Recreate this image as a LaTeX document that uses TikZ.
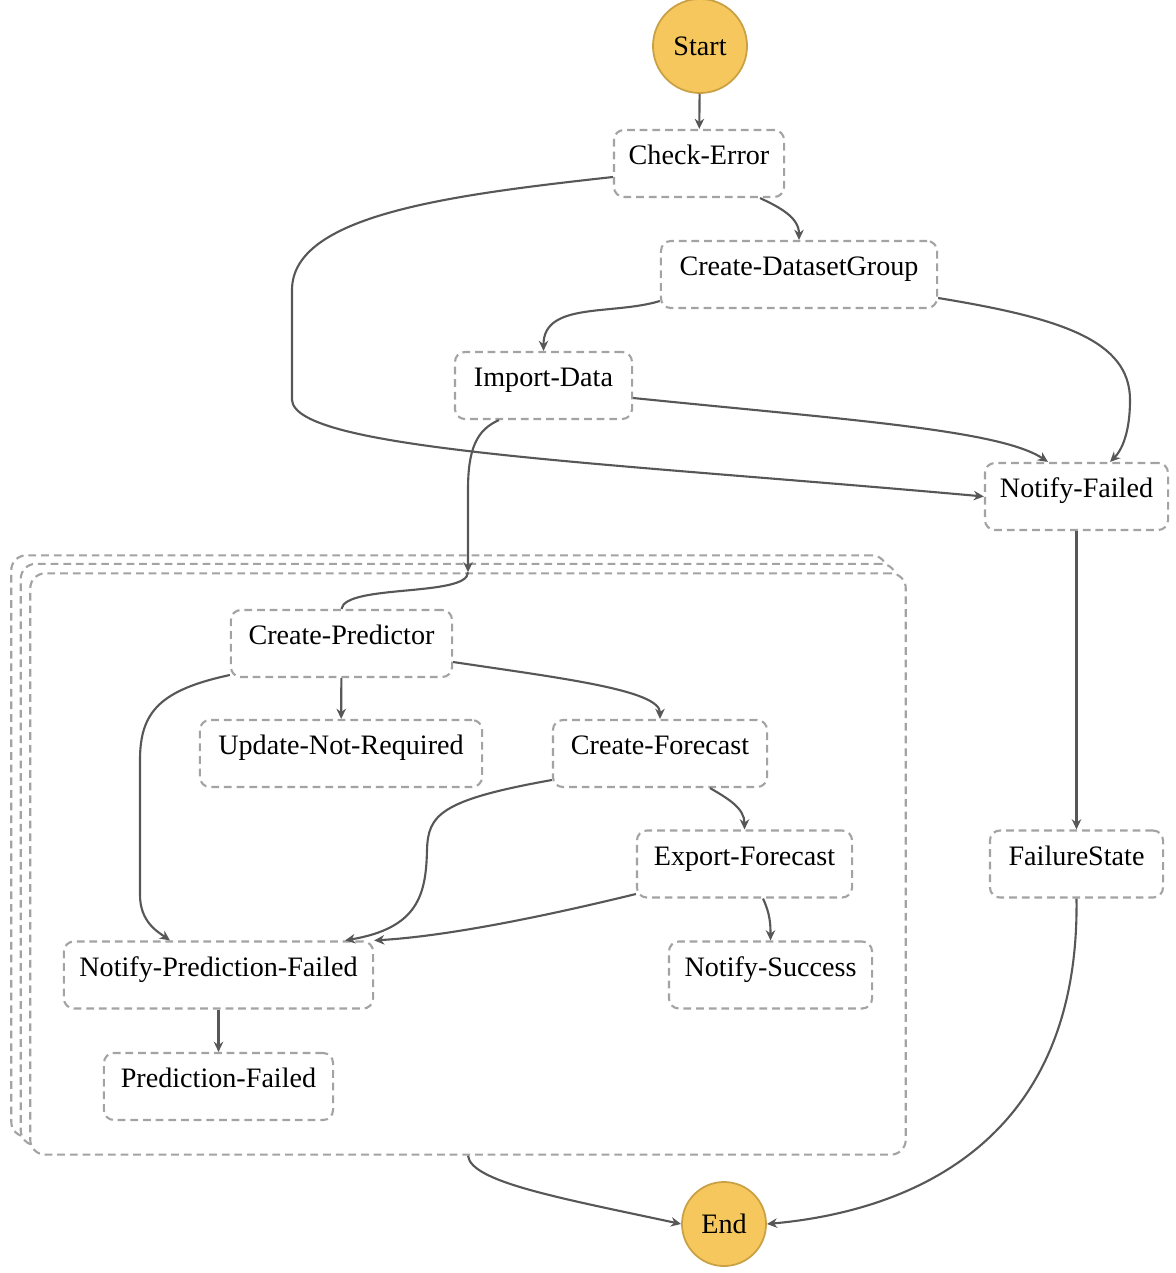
\documentclass[tikz,border=0pt]{standalone}
\usepackage{fontspec}
\setmainfont{Liberation Serif}
\usetikzlibrary{arrows.meta}
\definecolor{stategold}{HTML}{F5C75C}
\definecolor{stateedge}{HTML}{C9A144}
\definecolor{dashgray}{HTML}{A3A3A3}
\definecolor{linegray}{HTML}{575757}
\begin{document}
\begin{tikzpicture}[x=0.01cm,y=-0.01cm,font=\fontsize{8}{9}\selectfont]
    \tikzstyle{box}=[draw=dashgray, line width=0.6pt, dash pattern=on 2.2pt off 1.4pt,
                     rounded corners=0.1cm, fill=white, inner ysep=0pt,
                     text height=0.345cm, text depth=0.325cm]
    \tikzstyle{mapbox}=[draw=dashgray, line width=0.6pt, dash pattern=on 2.2pt off 1.4pt,
                        rounded corners=0.15cm, fill=white, minimum height=5.81cm, minimum width=8.75cm]
    \tikzstyle{terminal}=[circle, draw=stateedge, line width=0.5pt, fill=stategold, inner sep=0pt]
    \tikzstyle{edge}=[draw=linegray, line width=0.6pt, -{Stealth[length=2.9pt,width=2.7pt]}]
    \tikzstyle{link}=[draw=linegray, line width=0.6pt]

    \useasboundingbox (0,0) rectangle (1175,1273);

    \node[mapbox] (mapback) at (449,846) {};
    \node[mapbox] (mapmid) at (458.5,854.5) {};
    \node[mapbox] (map) at (468,864) {};

    \node[terminal, minimum size=0.94cm] (start) at (700,46) {Start};
    \node[box, minimum width=1.7cm] (chk) at (699,163.5) {Check-Error};
    \node[box, minimum width=2.76cm] (cdg) at (799,274.5) {Create-DatasetGroup};
    \node[box, minimum width=1.77cm] (imp) at (543.5,385.5) {Import-Data};
    \node[box, minimum width=1.83cm] (nfail) at (1076.5,496.5) {Notify-Failed};
    \node[box, minimum width=2.21cm] (cpred) at (341.5,643.5) {Create-Predictor};
    \node[box, minimum width=2.82cm] (unr) at (341,753.5) {Update-Not-Required};
    \node[box, minimum width=2.14cm] (cfc) at (660,753.5) {Create-Forecast};
    \node[box, minimum width=2.15cm] (efc) at (744.5,864) {Export-Forecast};
    \node[box, minimum width=1.73cm] (fstate) at (1076.5,864) {FailureState};
    \node[box, minimum width=3.09cm] (npf) at (218.5,975) {Notify-Prediction-Failed};
    \node[box, minimum width=2.03cm] (nsucc) at (770.5,975) {Notify-Success};
    \node[box, minimum width=2.29cm] (pf) at (218.5,1086.5) {Prediction-Failed};
    \node[terminal, minimum size=0.84cm] (end) at (724,1224) {End};

    \draw[edge] (start) -- (chk);
    \draw[edge] (chk.south -| 760,0) to[out=-25,in=90] (cdg.north);
    \draw[edge] (chk.west |- 0,177) .. controls (450,195) and (292,215) .. (292,290)
        -- (292,400) .. controls (295,450) and (600,462) .. (nfail.west);
    \draw[edge] (cdg.west |- 0,301) to[out=197,in=90] (imp.north);
    \draw[edge] (cdg.east |- 0,298) .. controls (1060,318) and (1130,340) .. (1130,400)
        .. controls (1130,432) and (1122,450) .. (nfail.north -| 1110,0);
    \draw[edge] (imp.east |- 0,398) .. controls (850,420) and (1000,430) .. (nfail.north -| 1048,0);
    \draw[edge] (imp.south -| 499,0) .. controls (476,430) and (468,450) .. (468,490) -- (map.north);
    \draw[link] (map.north) .. controls (468,597) and (345,584) .. (cpred.north);

    \draw[edge] (cpred) -- (unr);
    \draw[edge] (cpred.east |- 0,662) .. controls (560,678) and (660,690) .. (cfc.north);
    \draw[edge] (cpred.west |- 0,675) .. controls (160,690) and (140,712) .. (140,760)
        -- (140,895) .. controls (140,922) and (158,932) .. (npf.north -| 170,0);
    \draw[edge] (cfc.west |- 0,780) .. controls (440,800) and (428,815) .. (427,850)
        .. controls (426,895) and (418,928) .. (npf.north -| 345,0);
    \draw[edge] (cfc.south -| 710,0) to[out=-30,in=90] (efc.north);
    \draw[edge] (efc.west |- 0,894) .. controls (550,915) and (450,936) .. (npf.north east);
    \draw[edge] (efc.south -| 763,0) to[out=-65,in=90] (nsucc.north);
    \draw[edge] (npf) -- (pf);

    \draw[edge] (nfail) -- (fstate);
    \draw[edge] (fstate.south) .. controls (1080,1150) and (900,1212) .. (end.east);
    \draw[edge] (map.south) .. controls (471,1182) and (560,1198) .. (end.west);
\end{tikzpicture}
\end{document}
